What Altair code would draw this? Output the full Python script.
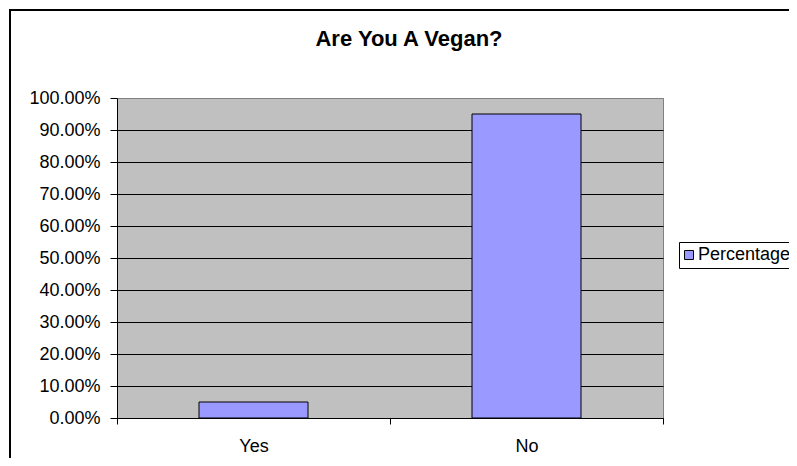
import altair as alt
import pandas as pd

categories = ["Yes", "No"]
percentages = [0.05, 0.95]
series_name = "Percentage"
y_ticks = [0.0, 0.1, 0.2, 0.3, 0.4, 0.5, 0.6, 0.7, 0.8, 0.9, 1.0]

df = pd.DataFrame({"answer": categories, "value": percentages, "series": [series_name] * len(categories)})

FONT = "Liberation Sans"

bars = alt.Chart(df).mark_bar(stroke="black", strokeWidth=1, size=109).encode(
    x=alt.X("answer:N", sort=categories, title=None,
            scale=alt.Scale(paddingInner=0, paddingOuter=0),
            axis=alt.Axis(labelAngle=0, tickBand="extent", tickSize=6, tickColor="black",
                          domainColor="black", labelFont=FONT, labelFontSize=18,
                          labelColor="black", labelPadding=13, grid=False)),
    y=alt.Y("value:Q", title=None,
            scale=alt.Scale(domain=[0, 1], nice=False),
            axis=alt.Axis(values=y_ticks, format=".2%", tickSize=7, tickColor="black",
                          domainColor="black", labelFont=FONT, labelFontSize=18,
                          labelColor="black", labelPadding=10,
                          grid=True,
                          gridColor=alt.condition("datum.value === 1", alt.value("#808080"), alt.value("black")),
                          gridWidth=1)),
    color=alt.Color("series:N", scale=alt.Scale(range=["#9999FF"]),
                    legend=alt.Legend(title=None, orient="none", legendX=562, legendY=144,
                                      strokeColor="black", fillColor="white", padding=4,
                                      symbolType="square", symbolSize=81,
                                      symbolStrokeColor="black", symbolStrokeWidth=1,
                                      symbolOffset=-3,
                                      labelFont=FONT, labelFontSize=18, labelColor="black",
                                      labelOffset=0)),
)

frame = alt.Chart(alt.Data(values=[{}])).mark_rect(
    fill=None, stroke="black", strokeWidth=2, clip=False
).encode(
    x=alt.value(-107), x2=alt.value(720), y=alt.value(-88), y2=alt.value(420)
)

chart = alt.layer(frame, bars).properties(
    width=546,
    height=320,
    background="white",
    title=alt.TitleParams("Are You A Vegan?", font=FONT, fontSize=22, fontWeight="bold",
                          color="black", anchor="middle", dx=19, dy=59, offset=0,
                          baseline="alphabetic"),
    autosize=alt.AutoSizeParams(type="none"),
    padding={"left": 109, "top": 90, "right": 126, "bottom": 40},
).configure_view(
    fill="#C0C0C0", stroke="#808080", strokeWidth=1
)

chart.save("out.html", embed_options={"renderer": "svg", "actions": False})
